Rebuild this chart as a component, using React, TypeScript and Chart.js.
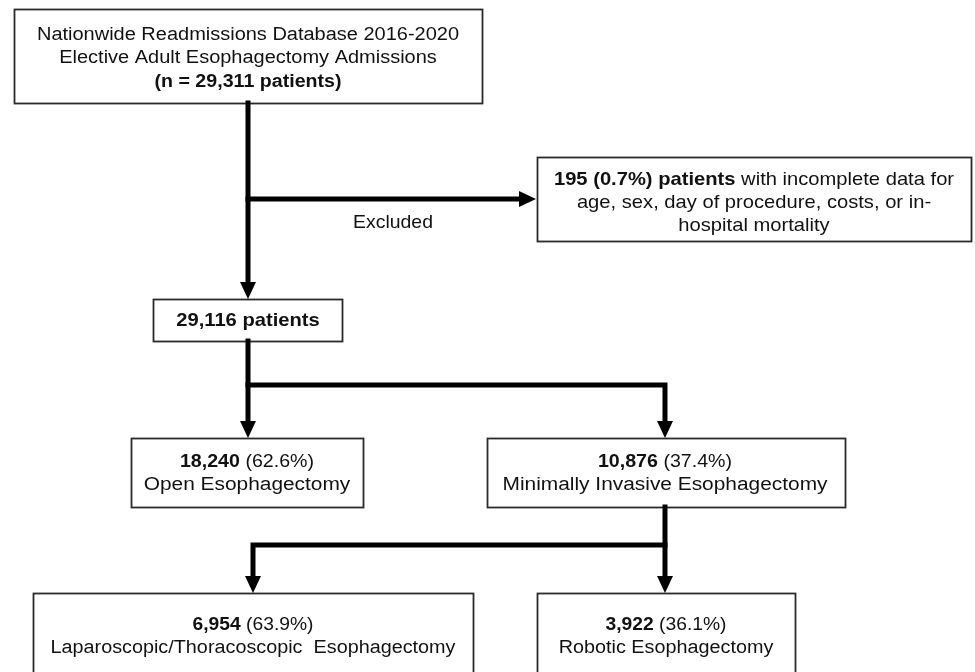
import React, { useEffect, useRef } from "react";
import { Chart, registerables } from "chart.js";

Chart.register(...registerables);

// ---------------- data ----------------
const SOURCE_LINE = "Nationwide Readmissions Database 2016-2020";
const COHORT_LINE = "Elective Adult Esophagectomy Admissions";
const TOTAL_PATIENTS = 29311;
const EXCLUDED_LABEL = "Excluded";
const EXCLUDED_PATIENTS = 195;
const EXCLUDED_PCT = 0.7;
const EXCLUDED_REASON = [
  "with incomplete data for",
  "age, sex, day of procedure, costs, or in-",
  "hospital mortality",
];
const INCLUDED_PATIENTS = 29116;
const APPROACH_LABELS = ["Open Esophagectomy", "Minimally Invasive Esophagectomy"];
const APPROACH_COUNTS = [18240, 10876];
const APPROACH_PCTS = [62.6, 37.4];
const MIE_LABELS = ["Laparoscopic/Thoracoscopic  Esophagectomy", "Robotic Esophagectomy"];
const MIE_COUNTS = [6954, 3922];
const MIE_PCTS = [63.9, 36.1];

// ---------------- layout (data units = pixels on a 975 x 672 plane) ----------------
const W = 975;
const H = 672;
const FONT = '"Liberation Sans", Arial, Helvetica, sans-serif';
const LINE_W = 5;
const ARROW_LEN = 17;
const ARROW_HALF = 8;

type Run = { t: string; b?: boolean };
type Line = { runs: Run[]; y: number; size: number; sx: number };
type Box = { x0: number; x1: number; y0: number; y1: number; cx: number; lines: Line[] };

const fmt = (n: number) => n.toLocaleString("en-US");
const pct = (p: number) => ` (${p.toFixed(1)}%)`;

const BOXES: Box[] = [
  {
    x0: 14, x1: 482, y0: 9, y1: 103, cx: 248,
    lines: [
      { runs: [{ t: SOURCE_LINE }], y: 39.5, size: 18, sx: 1.11 },
      { runs: [{ t: COHORT_LINE }], y: 63, size: 18, sx: 1.11 },
      { runs: [{ t: `(n = ${fmt(TOTAL_PATIENTS)} patients)`, b: true }], y: 86.5, size: 18, sx: 1.09 },
    ],
  },
  {
    x0: 537, x1: 971, y0: 157, y1: 241, cx: 754,
    lines: [
      {
        runs: [
          { t: `${EXCLUDED_PATIENTS} (${EXCLUDED_PCT.toFixed(1)}%) patients`, b: true },
          { t: " " + EXCLUDED_REASON[0] },
        ],
        y: 185, size: 18.5, sx: 1.09,
      },
      { runs: [{ t: EXCLUDED_REASON[1] }], y: 208, size: 18.5, sx: 1.09 },
      { runs: [{ t: EXCLUDED_REASON[2] }], y: 230.5, size: 18.5, sx: 1.09 },
    ],
  },
  {
    x0: 153, x1: 342, y0: 299, y1: 341, cx: 248,
    lines: [{ runs: [{ t: `${fmt(INCLUDED_PATIENTS)} patients`, b: true }], y: 326, size: 18.5, sx: 1.09 }],
  },
  {
    x0: 131, x1: 363, y0: 438, y1: 507, cx: 247,
    lines: [
      { runs: [{ t: fmt(APPROACH_COUNTS[0]), b: true }, { t: pct(APPROACH_PCTS[0]) }], y: 467, size: 18, sx: 1.09 },
      { runs: [{ t: APPROACH_LABELS[0] }], y: 490, size: 18, sx: 1.16 },
    ],
  },
  {
    x0: 487, x1: 845, y0: 438, y1: 507, cx: 665,
    lines: [
      { runs: [{ t: fmt(APPROACH_COUNTS[1]), b: true }, { t: pct(APPROACH_PCTS[1]) }], y: 467, size: 18, sx: 1.09 },
      { runs: [{ t: APPROACH_LABELS[1] }], y: 490, size: 18, sx: 1.16 },
    ],
  },
  {
    x0: 33, x1: 473, y0: 593, y1: 700, cx: 253,
    lines: [
      { runs: [{ t: fmt(MIE_COUNTS[0]), b: true }, { t: pct(MIE_PCTS[0]) }], y: 630, size: 18, sx: 1.07 },
      { runs: [{ t: MIE_LABELS[0] }], y: 653, size: 18, sx: 1.1 },
    ],
  },
  {
    x0: 537, x1: 795, y0: 593, y1: 700, cx: 666,
    lines: [
      { runs: [{ t: fmt(MIE_COUNTS[1]), b: true }, { t: pct(MIE_PCTS[1]) }], y: 630, size: 18, sx: 1.07 },
      { runs: [{ t: MIE_LABELS[1] }], y: 653, size: 18, sx: 1.1 },
    ],
  },
];

// connectors: polylines, the last point is an arrow tip when arrow = true
const CONNECTORS: { pts: [number, number][]; arrow: boolean }[] = [
  { pts: [[248, 103], [248, 299]], arrow: true },
  { pts: [[248, 199], [536, 199]], arrow: true },
  { pts: [[248, 341], [248, 438]], arrow: true },
  { pts: [[248, 385], [665, 385], [665, 438]], arrow: true },
  { pts: [[665, 507], [665, 593]], arrow: true },
  { pts: [[665, 545], [253, 545], [253, 593]], arrow: true },
];

const EXCLUDED_TEXT = { x: 393, y: 228, size: 18.5, sx: 1.05 };

function drawRuns(ctx: CanvasRenderingContext2D, runs: Run[], cx: number, y: number, size: number, sx: number) {
  const fonts = runs.map((r) => `${r.b ? "bold " : ""}${size}px ${FONT}`);
  const widths = runs.map((r, i) => {
    ctx.font = fonts[i];
    return ctx.measureText(r.t).width * sx;
  });
  const total = widths.reduce((a, b) => a + b, 0);
  let x = cx - total / 2;
  runs.forEach((r, i) => {
    ctx.save();
    ctx.font = fonts[i];
    ctx.textAlign = "left";
    ctx.textBaseline = "alphabetic";
    ctx.fillStyle = "#111";
    ctx.translate(x, y);
    ctx.scale(sx, 1);
    ctx.fillText(r.t, 0, 0);
    ctx.restore();
    x += widths[i];
  });
}

const flowPlugin = {
  id: "flowchart",
  beforeDatasetsDraw(chart: any) {
    const { ctx, scales } = chart;
    const sx = scales.x, sy = scales.y;
    ctx.save();
    BOXES.forEach((b) => {
      const x0 = sx.getPixelForValue(b.x0), x1 = sx.getPixelForValue(b.x1);
      const y0 = sy.getPixelForValue(b.y0), y1 = sy.getPixelForValue(b.y1);
      ctx.fillStyle = "#fff";
      ctx.fillRect(x0, y0, x1 - x0, y1 - y0);
      ctx.strokeStyle = "#2a2a2a";
      ctx.lineWidth = 1.8;
      ctx.strokeRect(Math.round(x0) + 0.5, Math.round(y0) + 0.5, Math.round(x1 - x0), Math.round(y1 - y0));
    });
    ctx.restore();
  },
  afterDatasetsDraw(chart: any) {
    const { ctx, scales } = chart;
    const sx = scales.x, sy = scales.y;
    ctx.save();
    // arrowheads
    CONNECTORS.forEach((c) => {
      if (!c.arrow) return;
      const n = c.pts.length;
      const tx = sx.getPixelForValue(c.pts[n - 1][0]);
      const ty = sy.getPixelForValue(c.pts[n - 1][1]);
      const px = sx.getPixelForValue(c.pts[n - 2][0]);
      const py = sy.getPixelForValue(c.pts[n - 2][1]);
      const len = Math.hypot(tx - px, ty - py) || 1;
      const dx = (tx - px) / len, dy = (ty - py) / len;
      const bx = tx - dx * ARROW_LEN, by = ty - dy * ARROW_LEN;
      ctx.beginPath();
      ctx.moveTo(tx, ty);
      ctx.lineTo(bx - dy * ARROW_HALF, by + dx * ARROW_HALF);
      ctx.lineTo(bx + dy * ARROW_HALF, by - dx * ARROW_HALF);
      ctx.closePath();
      ctx.fillStyle = "#000";
      ctx.fill();
    });
    // box texts
    BOXES.forEach((b) => {
      b.lines.forEach((l) => {
        drawRuns(ctx, l.runs, sx.getPixelForValue(b.cx), sy.getPixelForValue(l.y), l.size, l.sx);
      });
    });
    drawRuns(
      ctx,
      [{ t: EXCLUDED_LABEL }],
      sx.getPixelForValue(EXCLUDED_TEXT.x),
      sy.getPixelForValue(EXCLUDED_TEXT.y),
      EXCLUDED_TEXT.size,
      EXCLUDED_TEXT.sx
    );
    ctx.restore();
  },
};

function connectorData(c: { pts: [number, number][]; arrow: boolean }) {
  const pts = c.pts.map(([x, y]) => ({ x, y }));
  if (c.arrow) {
    const n = pts.length;
    const a = pts[n - 2], b = pts[n - 1];
    const len = Math.hypot(b.x - a.x, b.y - a.y) || 1;
    const back = ARROW_LEN - 3;
    pts[n - 1] = { x: b.x - ((b.x - a.x) / len) * back, y: b.y - ((b.y - a.y) / len) * back };
  }
  return pts;
}

export default function App() {
  const ref = useRef<HTMLCanvasElement | null>(null);
  useEffect(() => {
    if (!ref.current) return;
    const chart = new Chart(ref.current, {
      type: "scatter",
      data: {
        datasets: CONNECTORS.map((c, i) => ({
          label: `connector ${i + 1}`,
          data: connectorData(c),
          showLine: true,
          borderColor: "#000",
          backgroundColor: "#000",
          borderWidth: LINE_W,
          borderJoinStyle: "miter" as const,
          borderCapStyle: "square" as const,
          pointRadius: 0,
          pointHoverRadius: 0,
          tension: 0,
          fill: false,
        })),
      },
      options: {
        animation: false,
        responsive: false,
        maintainAspectRatio: false,
        devicePixelRatio: 1,
        events: [],
        layout: { padding: 0 },
        plugins: { legend: { display: false }, tooltip: { enabled: false } },
        scales: {
          x: { type: "linear", min: 0, max: W, display: false },
          y: { type: "linear", min: 0, max: H, reverse: true, display: false },
        },
      },
      plugins: [flowPlugin],
    });
    return () => chart.destroy();
  }, []);
  return (
    <div style={{ position: "fixed", left: 0, top: 0, width: W, height: H, background: "#fff" }}>
      <canvas ref={ref} width={W} height={H} style={{ display: "block", width: W, height: H }} />
    </div>
  );
}
